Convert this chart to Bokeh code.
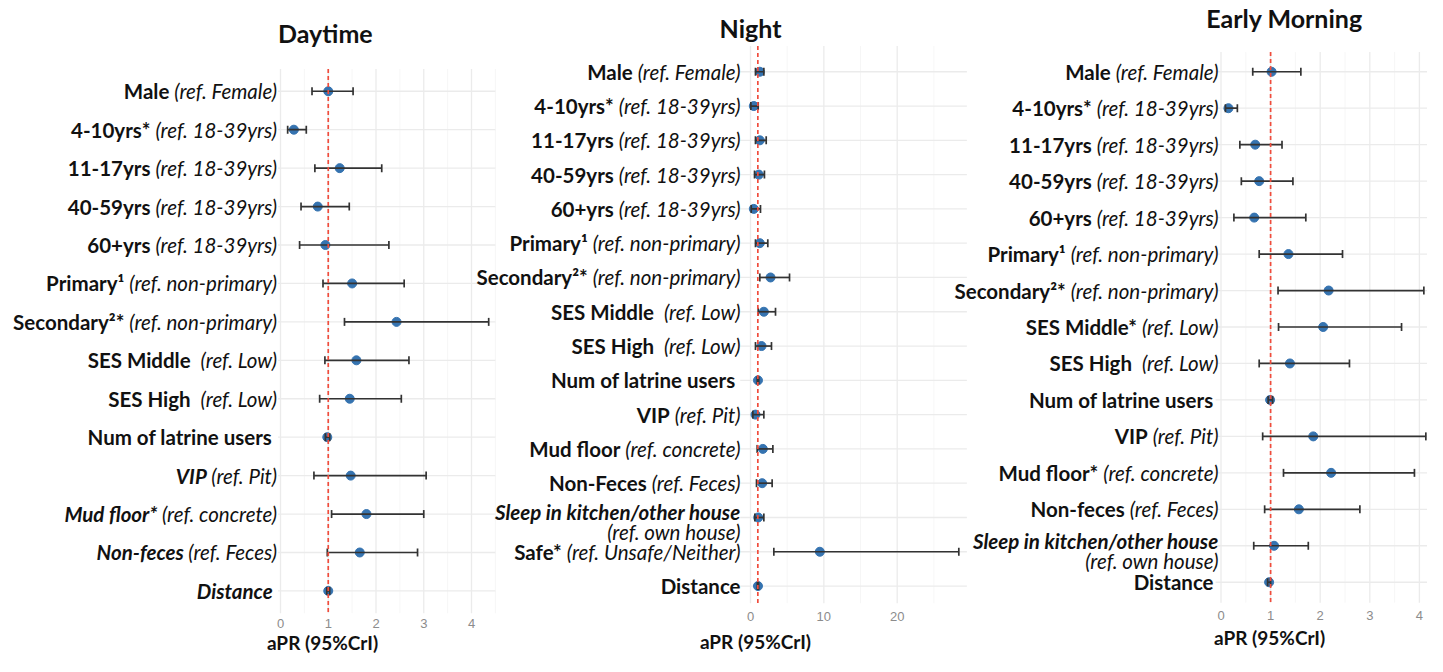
import numpy as np
from bokeh.plotting import figure
from bokeh.models import Range1d, LinearAxis, FixedTicker, ColumnDataSource, CustomJSTransform
from bokeh.core.properties import value, field
from bokeh.embed import file_html
from bokeh.resources import INLINE

# ---------------- data ----------------
day_bold = ["Male", "4-10yrs*", "11-17yrs", "40-59yrs", "60+yrs", "Primary\u00b9", "Secondary\u00b2*",
            "SES Middle", "SES High", "Num of latrine users ", "VIP", "Mud floor*", "Non-feces", "Distance "]
day_ref = [" (ref. Female)", " (ref. 18-39yrs)", " (ref. 18-39yrs)", " (ref. 18-39yrs)", " (ref. 18-39yrs)",
           " (ref. non-primary)", " (ref. non-primary)", "  (ref. Low)", "  (ref. Low)", "", " (ref. Pit)",
           " (ref. concrete)", " (ref. Feces)", ""]
day_line2 = [""] * 14
day_est = [1.00, 0.28, 1.24, 0.78, 0.94, 1.50, 2.43, 1.59, 1.45, 0.98, 1.47, 1.80, 1.66, 1.00]
day_lo = [0.66, 0.15, 0.72, 0.43, 0.40, 0.89, 1.34, 0.93, 0.82, 0.94, 0.70, 1.07, 0.98, 0.97]
day_hi = [1.52, 0.54, 2.12, 1.44, 2.27, 2.59, 4.36, 2.69, 2.53, 1.03, 3.05, 3.00, 2.87, 1.03]
day_ticks = [0, 1, 2, 3, 4]

night_bold = ["Male", "4-10yrs*", "11-17yrs", "40-59yrs", "60+yrs", "Primary\u00b9", "Secondary\u00b2*",
              "SES Middle", "SES High", "Num of latrine users ", "VIP", "Mud floor", "Non-Feces",
              "Sleep in kitchen/other house", "Safe*", "Distance"]
night_ref = [" (ref. Female)", " (ref. 18-39yrs)", " (ref. 18-39yrs)", " (ref. 18-39yrs)", " (ref. 18-39yrs)",
             " (ref. non-primary)", " (ref. non-primary)", "  (ref. Low)", "  (ref. Low)", "", " (ref. Pit)",
             " (ref. concrete)", " (ref. Feces)", "", " (ref. Unsafe/Neither)", ""]
night_line2 = [""] * 13 + ["(ref. own house)", "", ""]
night_est = [1.27, 0.45, 1.27, 1.14, 0.45, 1.27, 2.73, 1.82, 1.50, 1.02, 0.68, 1.68, 1.59, 1.05, 9.45, 1.02]
night_lo = [0.68, 0.05, 0.68, 0.55, 0.10, 0.68, 1.27, 1.05, 0.68, 0.92, 0.32, 0.91, 0.82, 0.59, 3.18, 0.93]
night_hi = [1.82, 1.05, 2.14, 1.90, 1.36, 2.36, 5.32, 3.41, 2.86, 1.12, 1.82, 3.05, 2.95, 1.82, 28.4, 1.10]
night_ticks = [0, 10, 20]

early_bold = ["Male", "4-10yrs*", "11-17yrs", "40-59yrs", "60+yrs", "Primary\u00b9", "Secondary\u00b2*",
              "SES Middle*", "SES High", "Num of latrine users ", "VIP", "Mud floor*", "Non-feces",
              "Sleep in kitchen/other house", "Distance "]
early_ref = [" (ref. Female)", " (ref. 18-39yrs)", " (ref. 18-39yrs)", " (ref. 18-39yrs)", " (ref. 18-39yrs)",
             " (ref. non-primary)", " (ref. non-primary)", " (ref. Low)", "  (ref. Low)", "", " (ref. Pit)",
             " (ref. concrete)", " (ref. Feces)", "", ""]
early_line2 = [""] * 13 + ["(ref. own house)", ""]
early_est = [1.02, 0.15, 0.69, 0.77, 0.67, 1.36, 2.17, 2.06, 1.39, 0.99, 1.86, 2.22, 1.57, 1.07, 0.97]
early_lo = [0.64, 0.09, 0.38, 0.41, 0.26, 0.77, 1.15, 1.16, 0.77, 0.95, 0.84, 1.26, 0.88, 0.66, 0.94]
early_hi = [1.61, 0.33, 1.23, 1.45, 1.71, 2.45, 4.09, 3.64, 2.59, 1.04, 4.13, 3.90, 2.80, 1.76, 1.00]
early_ticks = [0, 1, 2, 3, 4]

titles = ["Daytime", "Night", "Early Morning"]
x_title = "aPR (95%CrI)"

# ---------------- styling ----------------
W, H = 1427, 656
SY = 0.976            # vertical squeeze of the layout so everything fits
FONT = "Lato"
LABEL_SIZE = 20.5
BLUE = "#3573b0"
BAR = "#333333"
RED = "#f04c3c"
GRID = "#ebebeb"
GRID_MINOR = "#f4f4f4"

p = figure(width=W, height=H, x_range=Range1d(0, 1), y_range=Range1d(0, 1),
           x_axis_type=None, y_axis_type=None, toolbar_location=None,
           output_backend="svg", min_border=0, outline_line_color=None)
p.title.visible = False


def measure(font_css):
    code = """
    const c = document.createElement('canvas').getContext('2d');
    c.font = font;
    const out = new Float64Array(xs.length);
    for (let i = 0; i < xs.length; i++) {
        const s = xs[i];
        out[i] = (s && s.length) ? -c.measureText(s).width : 0;
    }
    return out;
    """
    return CustomJSTransform(args=dict(font=font_css), v_func=code,
                             func="const c = document.createElement('canvas').getContext('2d'); c.font = font; return x ? -c.measureText(x).width : 0;")


def panel(key, bold, ref, line2, bi_rows, est, lo, hi, ticks, minor, ref0, ppu, y0, dy,
          xlim, ylim, anchor, title, title_pos, axt_pos, standoff):
    xr, yr = key + "_x", key + "_y"
    p.extra_x_ranges[xr] = Range1d(start=(0 - ref0) / ppu, end=(W - ref0) / ppu)
    p.extra_y_ranges[yr] = Range1d(start=(H / SY - y0) / dy, end=(0 - y0) / dy)
    kw = dict(x_range_name=xr, y_range_name=yr)
    n = len(bold)
    rows = np.arange(n)

    # grid
    p.segment(x0=minor, y0=ylim[0], x1=minor, y1=ylim[1], line_color=GRID_MINOR, line_width=0.8, **kw)
    p.segment(x0=ticks, y0=ylim[0], x1=ticks, y1=ylim[1], line_color=GRID, line_width=1.3, **kw)
    p.segment(x0=xlim[0], y0=rows, x1=xlim[1], y1=rows, line_color=GRID, line_width=1.3, **kw)

    # estimates and intervals
    p.scatter(x=est, y=rows, size=9, fill_color=BLUE, line_color=BLUE, **kw)
    p.segment(x0=lo, y0=rows, x1=hi, y1=rows, line_color=BAR, line_width=1.7, **kw)
    p.scatter(x=list(lo) + list(hi), y=list(rows) + list(rows), marker="dash", angle=np.pi / 2,
              size=8, line_color=BAR, line_width=1.7, **kw)
    p.segment(x0=1, y0=ylim[0], x1=1, y1=ylim[1], line_color=RED, line_width=1.7,
              line_dash="4 3", **kw)

    # row labels: bold term + italic reference category (separator spaces kept on the bold side)
    sep = [r[:len(r) - len(r.lstrip())] for r in ref]
    bold_txt = [b + s for b, s in zip(bold, sep)]
    ital_txt = [r.lstrip() for r in ref]
    styles = ["bold italic" if i in bi_rows else "bold" for i in range(n)]
    yoff = [-5 if s else 0 for s in line2]
    src = ColumnDataSource(dict(y=rows, bold=bold_txt, ital=ital_txt, line2=line2, style=styles, yoff=yoff))
    common = dict(x=anchor, y="y", source=src, text_font=value(FONT), text_font_size=f"{LABEL_SIZE}px",
                  text_align="right", text_baseline="middle", text_color="#111111", **kw)
    p.text(text="ital", text_font_style="italic", y_offset="yoff", **common)
    p.text(text="bold", text_font_style=field("style"), y_offset="yoff",
           x_offset=field("ital", measure(f"italic {LABEL_SIZE}px {FONT}")), **common)
    p.text(text="line2", text_font_style="italic", y_offset=15, **common)

    # titles
    p.text(x=[title_pos[0]], y=[title_pos[1]], text=[title], text_font=value(FONT),
           text_font_style="bold", text_font_size="25px", text_align="center",
           text_baseline="middle", text_color="#111111", **kw)
    p.text(x=[axt_pos[0]], y=[axt_pos[1]], text=[x_title], text_font=value(FONT),
           text_font_style="bold", text_font_size="19px", text_align="center",
           text_baseline="middle", text_color="#111111", **kw)

    ax = LinearAxis(x_range_name=xr, y_range_name=yr, fixed_location=ylim[1],
                    ticker=FixedTicker(ticks=ticks, minor_ticks=[]),
                    axis_line_color=None, major_tick_line_color=None, minor_tick_line_color=None,
                    major_tick_out=0, major_tick_in=0, major_label_standoff=standoff,
                    major_label_text_font="Liberation Sans", major_label_text_font_size="13px",
                    major_label_text_color="#8c8c8c")
    p.add_layout(ax, "below")


panel("day", day_bold, day_ref, day_line2, {10, 11, 12, 13}, day_est, day_lo, day_hi,
      day_ticks, [0.5, 1.5, 2.5, 3.5, 4.5], ref0=280, ppu=47.75, y0=93, dy=39.38,
      xlim=(-0.05, 4.5), ylim=(-0.58, 13.58), anchor=-0.07, title=titles[0],
      title_pos=(0.94, -1.52), axt_pos=(0.88, 14.33), standoff=6)

panel("night", night_bold, night_ref, night_line2, {13}, night_est, night_lo, night_hi,
      night_ticks, [5, 15, 25], ref0=750, ppu=7.335, y0=73, dy=35.13,
      xlim=(-1.4, 29.5), ylim=(-0.75, 15.5), anchor=-1.36, title=titles[1],
      title_pos=(0.0, -1.28), axt_pos=(0.68, 16.62), standoff=9)

panel("early", early_bold, early_ref, early_line2, {13}, early_est, early_lo, early_hi,
      early_ticks, [0.5, 1.5, 2.5, 3.5], ref0=1220.5, ppu=49.6, y0=73, dy=37.36,
      xlim=(-0.11, 4.3), ylim=(-0.54, 14.56), anchor=-0.05, title=titles[2],
      title_pos=(1.28, -1.47), axt_pos=(0.98, 15.52), standoff=8)

open("out.html", "w").write(file_html(p, INLINE))
